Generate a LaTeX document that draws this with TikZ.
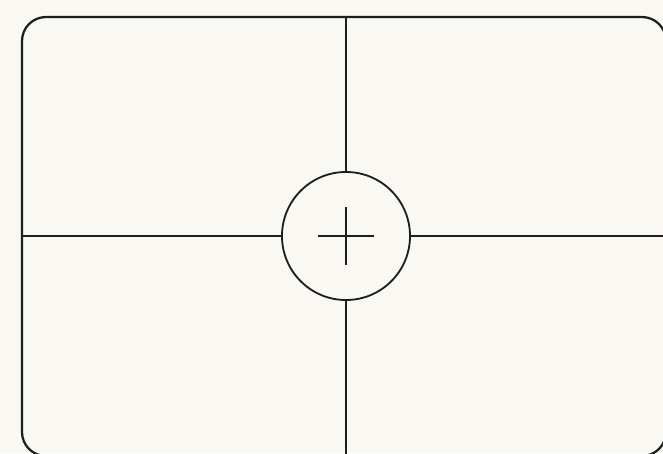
\documentclass[tikz,border=0pt]{standalone}
\usepackage{xcolor}
\usepackage{tikz}
\usetikzlibrary{calc, positioning}

\definecolor{paper}{HTML}{FAF8F3}
\definecolor{ink}{HTML}{1E1E1E}

\begin{document}
\begin{tikzpicture}[
  x=0.025cm, y=-0.025cm,
  frame/.style={draw=ink, line width=1.6pt, rounded corners=0.6cm},
  axis/.style={draw=ink, line width=1.3pt},
  hub/.style={circle, draw=ink, line width=1.3pt, minimum size=3.2cm, inner sep=0pt},
  tick/.style={draw=ink, line width=1.3pt}]
  % Khung ảnh
  \clip (0,0) rectangle (663,453);
  \fill[paper] (0,0) rectangle (663,453);
  \draw[frame] (22,17) rectangle (666,456);
  % Vòng tròn trung tâm
  \node[hub] (c) at (346,236) {};
  % Điểm cuối trên khung
  \coordinate (top) at (346,17);
  \coordinate (bot) at (346,456);
  \coordinate (lft) at (22,236);
  \coordinate (rgt) at (666,236);
  % Đường chia
  \draw[axis] (c.north) -- (top);
  \draw[axis] (c.south) -- (bot);
  \draw[axis] (c.west) -- (lft);
  \draw[axis] (c.east) -- (rgt);
  % Dấu cộng
  \draw[tick] ($(c)+(-28,0)$) -- ($(c)+(28,0)$);
  \draw[tick] ($(c)+(0,-29)$) -- ($(c)+(0,29)$);
\end{tikzpicture}
\end{document}
